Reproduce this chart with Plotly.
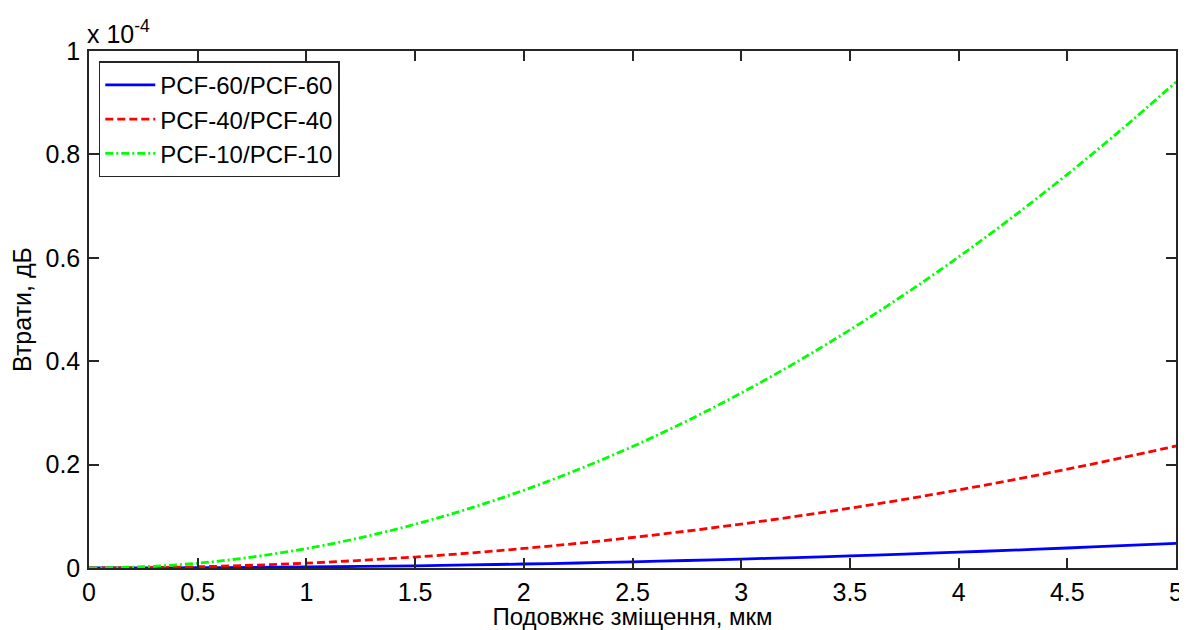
import plotly.graph_objects as go

# x positions (мкм)
x_um = [0, 0.25, 0.5, 0.75, 1, 1.25, 1.5, 1.75, 2, 2.25, 2.5, 2.75, 3,
        3.25, 3.5, 3.75, 4, 4.25, 4.5, 4.75, 5]

# losses in units of 1e-4 dB
loss_pcf60 = [0, 0.0001, 0.0005, 0.0011, 0.0019, 0.0030, 0.0043, 0.0059, 0.0077,
              0.0097, 0.0120, 0.0145, 0.0172, 0.0202, 0.0234, 0.0269, 0.0306,
              0.0345, 0.0387, 0.0431, 0.0478]
loss_pcf40 = [0, 0.0006, 0.0024, 0.0053, 0.0094, 0.0148, 0.0212, 0.0289, 0.0378,
              0.0478, 0.0590, 0.0714, 0.0850, 0.0997, 0.1156, 0.1328, 0.1510,
              0.1705, 0.1912, 0.2130, 0.2360]
loss_pcf10 = [0, 0.0024, 0.0094, 0.0212, 0.0376, 0.0588, 0.0846, 0.1152, 0.1504,
              0.1904, 0.2350, 0.2844, 0.3384, 0.3972, 0.4606, 0.5288, 0.6016,
              0.6792, 0.7614, 0.8484, 0.9400]

names = ["PCF-60/PCF-60", "PCF-40/PCF-40", "PCF-10/PCF-10"]
colors = ["#0000FF", "#FF0000", "#00FF00"]
dashes = ["solid", "8px,4px", "8px,3px,2px,3px"]

x_ticks = [0, 0.5, 1, 1.5, 2, 2.5, 3, 3.5, 4, 4.5, 5]
x_tick_labels = ["0", "0.5", "1", "1.5", "2", "2.5", "3", "3.5", "4", "4.5", "5"]
y_ticks = [0, 0.2, 0.4, 0.6, 0.8, 1]
y_tick_labels = ["0", "0.2", "0.4", "0.6", "0.8", "1"]

FONT = "Liberation Sans, Arial, sans-serif"
FS = 25

fig = go.Figure()
for ys, n, c, d in zip([loss_pcf60, loss_pcf40, loss_pcf10], names, colors, dashes):
    fig.add_trace(go.Scatter(x=x_um, y=ys, mode="lines", name=n,
                             line=dict(color=c, width=2.8, dash=d, shape="spline")))

axis_common = dict(showgrid=False, zeroline=False, showline=True, linecolor="#262626",
                   linewidth=1.5, mirror="ticks", ticks="inside", ticklen=10,
                   tickcolor="#262626", tickwidth=1.5, automargin=False,
                   tickfont=dict(family=FONT, size=FS, color="black"))

# page body has an 8px margin, so the figure is sized/margined to compensate
fig.update_layout(
    width=1179, height=622,
    paper_bgcolor="white", plot_bgcolor="white",
    margin=dict(l=81, r=11, t=43, b=62),
    font=dict(family=FONT, color="black"),
    xaxis=dict(range=[0, 5], tickvals=x_ticks, ticktext=x_tick_labels,
               ticklabelstandoff=1,
               title=dict(text="Подовжнє зміщення, мкм", font=dict(family=FONT, size=24), standoff=5),
               **axis_common),
    yaxis=dict(range=[0, 1], tickvals=y_ticks, ticktext=y_tick_labels,
               ticklabelstandoff=2,
               title=dict(text="Втрати, дБ", font=dict(family=FONT, size=FS), standoff=10),
               **axis_common),
    legend=dict(x=0.009, y=0.98, xanchor="left", yanchor="top",
                bordercolor="#262626", borderwidth=1.5, bgcolor="white",
                font=dict(family=FONT, size=24), tracegroupgap=0, itemwidth=50),
    showlegend=True,
)

fig.add_annotation(text="x 10<sup>-4</sup>", xref="paper", yref="paper", x=0, y=1,
                   xanchor="left", yanchor="bottom", showarrow=False,
                   font=dict(family=FONT, size=FS, color="black"), yshift=1, xshift=-4)

fig.write_html("out.html")
